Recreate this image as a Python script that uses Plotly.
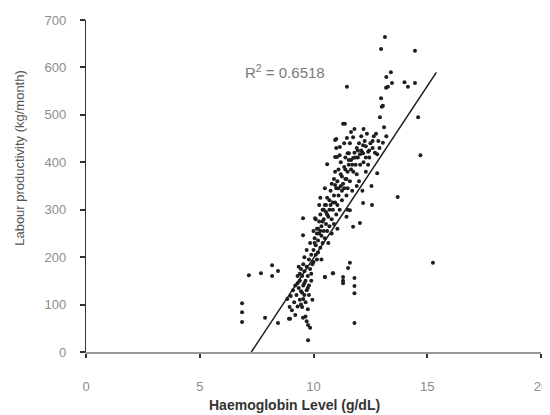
import plotly.graph_objects as go

# Haemoglobin level (g/dL) vs labour productivity (kg/month)
hb = [
    6.86, 6.86, 6.86, 7.16, 7.69, 8.18, 8.18, 8.44, 7.87, 8.44, 8.92,
    8.85, 8.95, 9.0, 9.05, 9.1, 9.15, 9.2, 9.2, 9.25, 9.3, 9.3, 8.97, 9.54, 9.54, 9.54,
    9.35, 9.4, 9.4, 9.45, 9.45, 9.5, 9.5, 9.55, 9.55, 9.6, 9.6, 9.6, 9.65, 9.65, 9.7, 9.7,
    9.7, 9.75, 9.75, 9.8, 9.8, 9.8, 9.85, 9.85, 9.9, 9.9, 9.95, 9.95, 9.76, 9.85, 9.76,
    9.65, 9.7, 9.3, 9.4, 9.5, 9.6, 9.75, 9.9, 9.45, 9.35, 9.55,
    10.0, 10.0, 10.05, 10.07, 10.1, 10.1, 10.15, 10.15, 10.2, 10.2, 10.25, 10.25, 10.3,
    10.3, 10.35, 10.35, 10.4, 10.4, 10.45, 10.45, 10.5, 10.5, 10.5, 10.55, 10.55, 10.6,
    10.6, 10.6, 10.65, 10.7, 10.7, 10.75, 10.75, 10.8, 10.8, 10.85, 10.85, 10.9, 10.9,
    10.95, 10.95, 10.95, 10.95, 11.0, 11.0, 11.03, 11.0, 10.95, 11.0,
    10.05, 10.2, 10.3, 10.45, 10.6, 10.7, 10.85, 10.15, 10.4, 10.55,
    10.1, 10.25, 10.35, 10.5, 10.65, 10.8, 10.9, 11.05, 10.0, 10.3,
    11.05, 11.1, 11.1, 11.15, 11.16, 11.2, 11.2, 11.25, 11.25, 11.3, 11.3, 11.3, 11.3,
    11.35, 11.35, 11.38, 11.4, 11.4, 11.45, 11.47, 11.47, 11.5, 11.5, 11.5, 11.55, 11.56,
    11.6, 11.6, 11.65, 11.65, 11.7, 11.74, 11.74, 11.74, 11.75, 11.8, 11.8, 11.8, 11.8,
    11.8, 11.85, 11.9, 11.9, 11.95, 11.52, 11.6, 10.86, 10.5,
    11.1, 11.2, 11.3, 11.45, 11.55, 11.65, 11.7, 11.85, 11.95, 11.25, 11.4,
    11.15, 11.35, 11.5, 11.6, 11.8, 11.9, 11.05, 11.45,
    12.0, 12.04, 12.04, 12.05, 12.1, 12.15, 12.18, 12.18, 12.18, 12.2, 12.25, 12.3, 12.3,
    12.35, 12.4, 12.45, 12.5, 12.57, 12.6, 12.65, 12.75, 12.8, 12.8, 12.85, 12.9, 12.92,
    12.97, 12.97, 13.0, 13.05, 13.05, 12.1, 12.3, 12.45, 12.6, 12.7,
    12.0, 12.2, 12.4, 12.55, 12.15,
    13.1, 13.14, 13.19, 13.2, 13.2, 13.27, 13.4, 13.45, 13.7, 14.0, 14.15, 14.46, 14.46,
    14.6, 14.7, 15.25,
]
productivity = [
    103, 84, 63, 162, 166, 183, 160, 171, 72, 61, 70,
    112, 95, 118, 88, 130, 105, 140, 78, 120, 160, 96, 70, 72, 246, 282,
    135, 150, 110, 175, 128, 160, 95, 185, 140, 120, 170, 200, 150, 105, 180, 130,
    215, 160, 90, 195, 140, 120, 175, 230, 150, 205, 185, 110, 57, 51, 25,
    75, 65, 145, 165, 125, 145, 135, 165, 100, 180, 112,
    215, 190, 240, 282, 205, 225, 260, 195, 235, 210, 250, 275, 220,
    290, 245, 265, 300, 230, 255, 280, 158, 240, 310, 270, 295, 396,
    255, 325, 285, 300, 265, 340, 310, 280, 355, 166, 300, 330, 270,
    411, 380, 352, 315, 290, 345, 411, 449, 447, 430,
    230, 260, 255, 300, 290, 320, 315, 250, 275, 310,
    280, 310, 195, 345, 230, 250, 365, 260, 255, 325,
    360, 330, 385, 300, 432, 350, 400, 370, 320, 481, 158, 150, 145,
    390, 345, 481, 410, 365, 330, 451, 559, 419, 380, 300, 395, 419,
    299, 360, 464, 405, 340, 453, 409, 264, 380, 156, 139, 124, 61,
    420, 395, 350, 430, 410, 177, 188, 166, 158,
    345, 375, 355, 365, 405, 385, 395, 410, 425, 340, 385,
    415, 440, 345, 440, 470, 375, 310, 285,
    440, 417, 272, 395, 455, 420, 436, 419, 314, 400, 445, 434, 380,
    460, 422, 410, 440, 310, 430, 455, 460, 417, 377, 445, 430, 495,
    535, 639, 517, 519, 441, 425, 410, 425, 445, 420,
    360, 470, 395, 350, 340,
    474, 664, 557, 455, 580, 559, 590, 567, 327, 569, 559, 567, 635,
    495, 415, 188,
]

# Linear trend line shown in the chart
trend_slope = 72.5
trend_intercept = -527.0
trend_x = [7.27, 15.4]
trend_y = [trend_slope * v + trend_intercept for v in trend_x]
r_squared_text = "R<sup>2</sup> = 0.6518"

x_ticks = [0, 5, 10, 15, 20]
y_ticks = [0, 100, 200, 300, 400, 500, 600, 700]
x_title = "<b>Haemoglobin Level (g/dL)</b>"
y_title = "Labour productivity (kg/month)"

fig = go.Figure()
fig.add_trace(go.Scatter(
    x=hb, y=productivity, mode="markers",
    marker=dict(symbol="circle", size=4, color="#1e1e1e"),
    showlegend=False,
))
fig.add_trace(go.Scatter(
    x=trend_x, y=trend_y, mode="lines",
    line=dict(color="#1a1a1a", width=1.5),
    showlegend=False,
))

font_family = "Liberation Sans, Arial, sans-serif"
# The page body adds an 8px margin, so the figure is sized 542x407 to fill the window.
fig.update_layout(
    width=542, height=407,
    margin=dict(l=78, r=9, t=12, b=63),
    paper_bgcolor="white", plot_bgcolor="white",
    font=dict(family=font_family, size=12, color="#777"),
    xaxis=dict(
        range=[0, 20], tickvals=x_ticks, ticktext=[str(v) for v in x_ticks],
        automargin=False,
        showgrid=False, zeroline=False, showline=True, linecolor="#9a9a9a", linewidth=2,
        ticks="outside", ticklen=4, tickwidth=2, tickcolor="#333",
        ticklabelstandoff=17,
        tickfont=dict(size=13, color="#8c8c8c"),
    ),
    yaxis=dict(
        range=[0, 700], tickvals=y_ticks,
        automargin=False,
        showgrid=False, zeroline=False, showline=True, linecolor="#333", linewidth=1.2,
        ticks="outside", ticklen=5, tickwidth=2, tickcolor="#333",
        ticklabelstandoff=11,
        tickfont=dict(size=13, color="#8c8c8c"),
    ),
    annotations=[
        dict(x=0.438, y=0.846, xref="paper", yref="paper", text=r_squared_text,
             showarrow=False, xanchor="center", yanchor="middle",
             font=dict(size=15, color="#7a7a7a")),
        dict(x=0.458, y=-0.16, xref="paper", yref="paper", text=x_title,
             showarrow=False, xanchor="center", yanchor="middle",
             font=dict(size=14, color="#333")),
        dict(x=-0.145, y=0.585, xref="paper", yref="paper", text=y_title,
             showarrow=False, textangle=-90, xanchor="center", yanchor="middle",
             font=dict(size=13, color="#555")),
    ],
)

fig.write_html("out.html")
